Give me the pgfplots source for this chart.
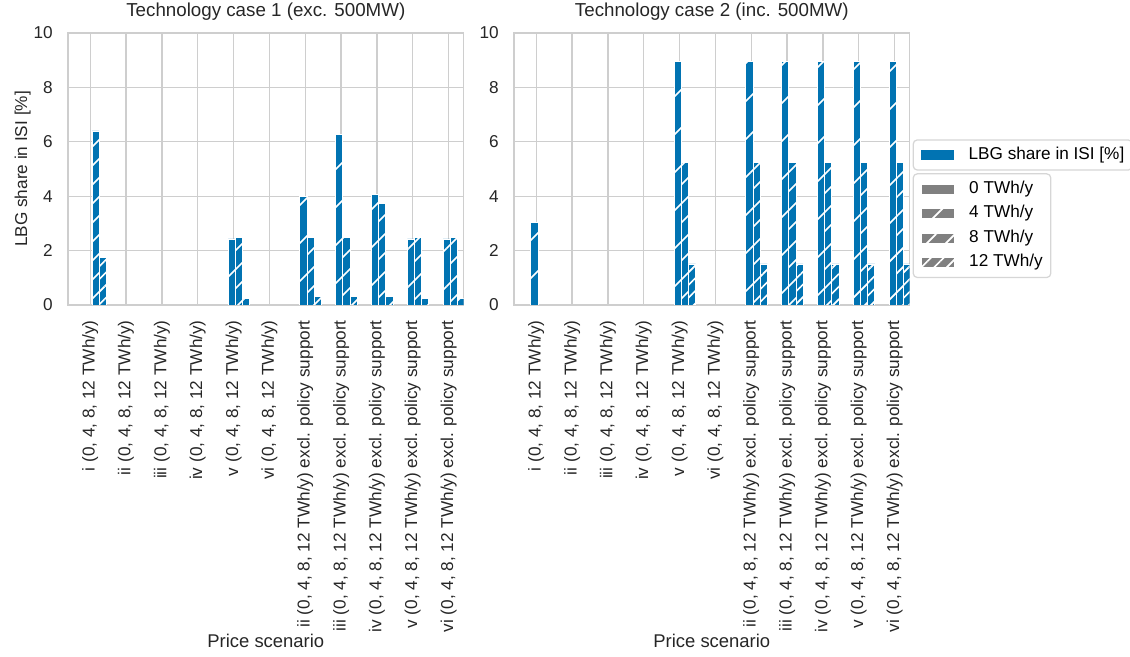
\documentclass[border=0pt]{standalone}
\usepackage{fontspec}
\setmainfont{Liberation Sans}
\usepackage{pgfplots}
\pgfplotsset{compat=1.18}
\usepackage{pgfplotstable}
\usetikzlibrary{patterns.meta}
\definecolor{lbg}{RGB}{1,115,178}
\definecolor{gridc}{RGB}{206,206,206}
\definecolor{legc}{RGB}{128,128,128}

\pgfplotstableread{
x t0 t4 t8 t12
0 0 0 6.40 1.76
1 0 0 0 0
2 0 0 0 0
3 0 0 0 0
4 0 2.43 2.47 0.25
5 0 0 0 0
6 0 3.98 2.47 0.32
7 0 6.26 2.47 0.32
8 0 4.07 3.73 0.32
9 0 2.43 2.47 0.25
10 0 2.43 2.47 0.25
}\caseone

\pgfplotstableread{
x t0 t4 t8 t12
0 0 3.04 0 0
1 0 0 0 0
2 0 0 0 0
3 0 0 0 0
4 0 8.96 5.24 1.51
5 0 0 0 0
6 0 8.96 5.24 1.51
7 0 8.96 5.24 1.51
8 0 8.96 5.24 1.51
9 0 8.96 5.24 1.51
10 0 8.96 5.24 1.51
}\casetwo

\tikzset{
  hatchA/.style={postaction={pattern={Lines[angle=45,distance=17.2pt,line width=1.05pt]},pattern color=white}},
  hatchB/.style={postaction={pattern={Lines[angle=45,distance=8.6pt,line width=1.05pt]},pattern color=white}},
  hatchC/.style={postaction={pattern={Lines[angle=45,distance=5.73pt,line width=1.05pt]},pattern color=white}},
}

\pgfplotsset{
  barstyle/.style={ybar, bar width=0.2, fill=lbg, draw=white, line width=0.5pt},
  mylegend/.style={
    legend cell align=left,
    legend image code/.code={\path[##1, sharp corners] (0pt,-3.2pt) rectangle (21.1pt,3.2pt);},
    legend style={draw=black!16, line width=0.8pt, rounded corners=2.5pt, fill=white,
      inner xsep=5.1pt, inner ysep=4.35pt, font=\fontsize{11}{13}\selectfont,
      row sep=5.2pt, anchor=north west,
      nodes={inner sep=0pt, text height=8pt, text depth=2.5pt},
      /tikz/every odd column/.append style={column sep=9.2pt}},
  },
  panel/.style={
    scale only axis, width=253.2pt, height=174.08pt,
    xmin=-0.62, xmax=10.42, ymin=0, ymax=10,
    xtick={0,...,10}, ytick={0,2,...,10},
    xticklabels={{i (0, 4, 8, 12 TWh/y)},{ii (0, 4, 8, 12 TWh/y)},{iii (0, 4, 8, 12 TWh/y)},{iv (0, 4, 8, 12 TWh/y)},{v (0, 4, 8, 12 TWh/y)},{vi (0, 4, 8, 12 TWh/y)},{ii (0, 4, 8, 12 TWh/y) excl. policy support},{iii (0, 4, 8, 12 TWh/y) excl. policy support},{iv (0, 4, 8, 12 TWh/y) excl. policy support},{v (0, 4, 8, 12 TWh/y) excl. policy support},{vi (0, 4, 8, 12 TWh/y) excl. policy support}},
    grid=major, major grid style={gridc, line width=0.85pt},
    axis line style={gridc, line width=0.95pt},
    major tick length=0pt,
    tick label style={font=\fontsize{11}{13}\selectfont, text=black!85},
    /pgf/number format/assume math mode=true,
    xticklabel style={rotate=90, anchor=east, inner sep=0pt},
    xticklabel shift=9.6pt,
    yticklabel style={anchor=east, inner sep=0pt},
    yticklabel shift=9.6pt,
    title style={at={(axis description cs:0.5,1)}, anchor=base, yshift=4.5pt, font=\fontsize{12}{14}\selectfont, text=black!85},
    every axis x label/.style={at={(axis description cs:0.5,0)}, anchor=base, yshift=-219.1pt, font=\fontsize{11.8}{14}\selectfont, text=black!85},
    every axis y label/.style={at={(axis description cs:-0.1034,0.5)}, anchor=base, rotate=90, font=\fontsize{11}{13}\selectfont, text=black!85},
    xlabel={Price scenario},
    y filter/.expression={y<=0 ? nan : y},
    unbounded coords=discard,
  },
}

\begin{document}
\begin{tikzpicture}
\useasboundingbox (0,0) rectangle (723.2pt,420.48pt);

\begin{axis}[panel, at={(43.52pt,225.28pt)}, anchor=south west,
  title={Technology case 1 (exc. 500MW)}, ylabel={LBG share in ISI [\%]}]
\addplot[barstyle, bar shift=-0.25] table[x=x,y=t0]{\caseone};
\addplot[barstyle, bar shift=-0.05, hatchA] table[x=x,y=t4]{\caseone};
\addplot[barstyle, bar shift=0.15, hatchB] table[x=x,y=t8]{\caseone};
\addplot[barstyle, bar shift=0.35, hatchC] table[x=x,y=t12]{\caseone};
\end{axis}

\begin{axis}[panel, mylegend, at={(328.96pt,225.28pt)}, anchor=south west,
  title={Technology case 2 (inc. 500MW)},
  legend style={at={(axis description cs:1.00766,0.6090)}}]
\addlegendimage{fill=lbg, draw=none}
\addlegendentry{LBG share in ISI [\%]}
\addplot[barstyle, bar shift=-0.25] table[x=x,y=t0]{\casetwo};
\addplot[barstyle, bar shift=-0.05, hatchA] table[x=x,y=t4]{\casetwo};
\addplot[barstyle, bar shift=0.15, hatchB] table[x=x,y=t8]{\casetwo};
\addplot[barstyle, bar shift=0.35, hatchC] table[x=x,y=t12]{\casetwo};
\end{axis}

\begin{axis}[mylegend, at={(328.96pt,225.28pt)}, anchor=south west,
  scale only axis, width=253.2pt, height=174.08pt, hide axis,
  xmin=0, xmax=1, ymin=0, ymax=1,
  legend style={at={(axis description cs:1.00766,0.4844)}}]
\addlegendimage{fill=legc, draw=white, line width=0.4pt}
\addlegendentry{0 TWh/y}
\addlegendimage{fill=legc, draw=white, line width=0.4pt, hatchA}
\addlegendentry{4 TWh/y}
\addlegendimage{fill=legc, draw=white, line width=0.4pt, hatchB}
\addlegendentry{8 TWh/y}
\addlegendimage{fill=legc, draw=white, line width=0.4pt, hatchC}
\addlegendentry{12 TWh/y}
\end{axis}
\end{tikzpicture}
\end{document}
